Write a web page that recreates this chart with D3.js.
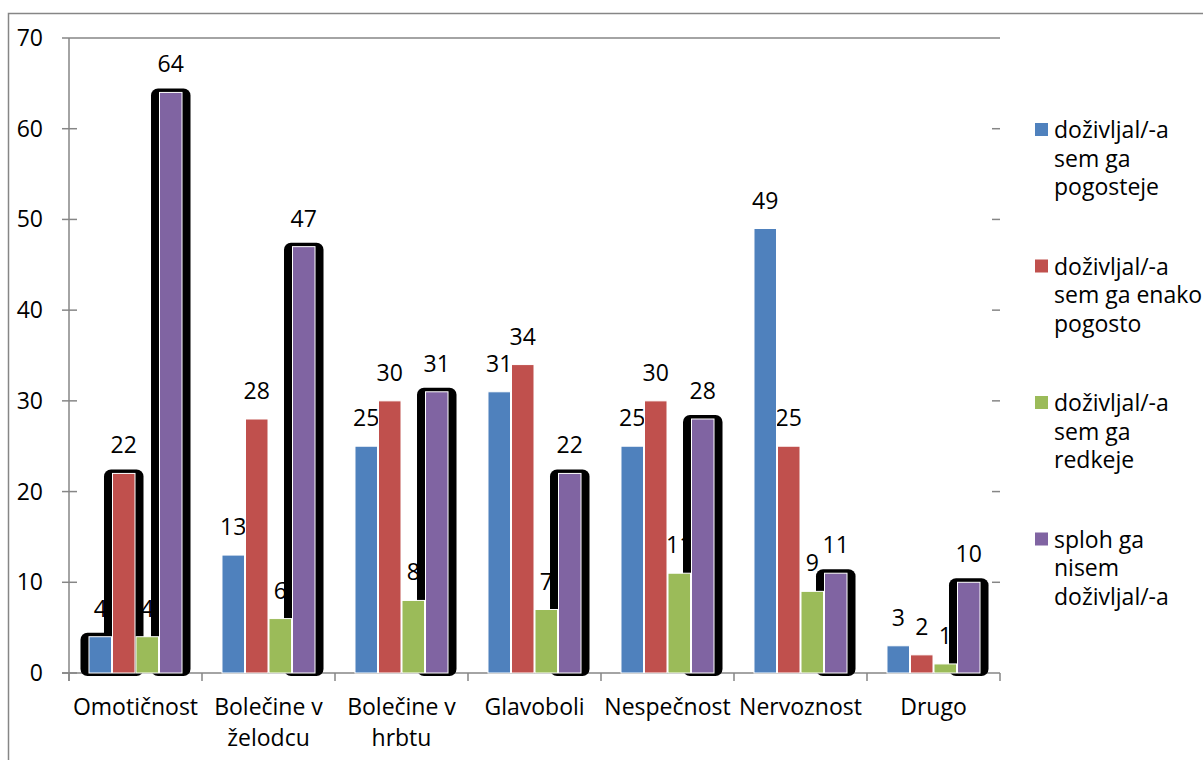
<!DOCTYPE html>
<html>
<head>
<meta charset="utf-8">
<script src="https://cdn.jsdelivr.net/npm/d3@7"></script>
<style>
  html, body { margin: 0; padding: 0; background: #fff; }
  svg { display: block; font-family: "Open Sans", sans-serif; }
</style>
</head>
<body>
<svg id="chart" width="1203" height="760"></svg>
<script>
// Symptom categories and the four answer groups
const categories = ["Omotičnost", "Bolečine v želodcu", "Bolečine v hrbtu", "Glavoboli", "Nespečnost", "Nervoznost", "Drugo"];
const seriesNames = [
  ["doživljal/-a", "sem ga", "pogosteje"],
  ["doživljal/-a", "sem ga enako", "pogosto"],
  ["doživljal/-a", "sem ga", "redkeje"],
  ["sploh ga", "nisem", "doživljal/-a"]
];
const seriesColors = ["#4F81BD", "#C0504D", "#9BBB59", "#8064A2"];

const pogosteje = [4, 13, 25, 31, 25, 49, 3];
const enako     = [22, 28, 30, 34, 30, 25, 2];
const redkeje   = [4, 6, 8, 7, 11, 9, 1];
const nikoli    = [64, 47, 31, 22, 28, 11, 10];
const seriesValues = [pogosteje, enako, redkeje, nikoli];

// bars that carry a heavy black rounded frame: [series index, category index]
const framedBars = [[0, 0], [1, 0], [3, 0], [3, 1], [3, 2], [3, 3], [3, 4], [3, 5], [3, 6]];

const yTicks = [0, 10, 20, 30, 40, 50, 60, 70];

const svg = d3.select("#chart");
const axisColor = "#868686";
const fontSize = 23;

// outer chart frame
svg.append("rect")
  .attr("x", 8.5).attr("y", 13.5)
  .attr("width", 1400).attr("height", 900)
  .attr("fill", "none").attr("stroke", axisColor).attr("stroke-width", 1.5);

const plot = { left: 69, right: 1000, top: 38, bottom: 673 };

const y = d3.scaleLinear().domain([0, 70]).range([plot.bottom, plot.top]);
const x0 = d3.scaleBand().domain(categories)
  .range([plot.left, plot.right]).paddingInner(0.293).paddingOuter(0.1465);
const x1 = d3.scaleBand().domain(d3.range(seriesValues.length))
  .range([0, x0.bandwidth()]).padding(0);

const rows = [];
seriesValues.forEach((vals, s) => vals.forEach((v, c) => rows.push({ s, c, v })));

// y axis: line with short crossing ticks
const yAxis = svg.append("g");
yAxis.append("line")
  .attr("x1", plot.left).attr("x2", plot.left)
  .attr("y1", plot.top).attr("y2", plot.bottom + 8)
  .attr("stroke", axisColor).attr("stroke-width", 1.5);
yAxis.selectAll("line.tick").data(yTicks.filter(t => t < 70)).join("line")
  .attr("class", "tick")
  .attr("x1", plot.left - 7).attr("x2", plot.left + 8)
  .attr("y1", d => y(d)).attr("y2", d => y(d))
  .attr("stroke", axisColor).attr("stroke-width", 1.5);
// right-hand tick marks
yAxis.selectAll("line.rtick").data(yTicks.filter(t => t > 0 && t < 70)).join("line")
  .attr("class", "rtick")
  .attr("x1", plot.right - 8).attr("x2", plot.right)
  .attr("y1", d => y(d)).attr("y2", d => y(d))
  .attr("stroke", axisColor).attr("stroke-width", 1.5);
// top line at the maximum
yAxis.append("line")
  .attr("x1", plot.left - 7).attr("x2", plot.right)
  .attr("y1", y(70)).attr("y2", y(70))
  .attr("stroke", axisColor).attr("stroke-width", 1.5);
yAxis.selectAll("text").data(yTicks).join("text")
  .attr("x", 43).attr("y", d => y(d))
  .attr("dy", "0.35em")
  .attr("text-anchor", "end")
  .attr("font-size", fontSize).attr("fill", "#000")
  .text(d => d);

// x axis
const xAxis = svg.append("g");
xAxis.append("line")
  .attr("x1", plot.left - 7).attr("x2", plot.right)
  .attr("y1", plot.bottom).attr("y2", plot.bottom)
  .attr("stroke", axisColor).attr("stroke-width", 1.5);
const bounds = categories.map(c => x0(c) - x0.step() * x0.paddingOuter()).concat([plot.right]);
xAxis.selectAll("line.xt").data(bounds).join("line")
  .attr("class", "xt")
  .attr("x1", d => d).attr("x2", d => d)
  .attr("y1", plot.bottom).attr("y2", plot.bottom + 8)
  .attr("stroke", axisColor).attr("stroke-width", 1.5);

// category labels, wrapped to the band step
const catLabels = xAxis.selectAll("text").data(categories).join("text")
  .attr("x", d => x0(d) + x0.bandwidth() / 2)
  .attr("y", 715)
  .attr("text-anchor", "middle")
  .attr("font-size", fontSize).attr("fill", "#000");
catLabels.each(function (d) {
  const t = d3.select(this);
  const words = d.split(" ");
  const lines = [];
  let line = [];
  const probe = t.append("tspan");
  words.forEach(w => {
    const trial = line.concat([w]).join(" ");
    probe.text(trial);
    if (probe.node().getComputedTextLength() > x0.step() && line.length) {
      lines.push(line.join(" "));
      line = [w];
    } else {
      line.push(w);
    }
  });
  lines.push(line.join(" "));
  probe.remove();
  lines.forEach((l, i) => {
    t.append("tspan")
      .attr("x", x0(d) + x0.bandwidth() / 2)
      .attr("y", 715 + i * 31)
      .text(l);
  });
});

const barX = d => x0(categories[d.c]) + x1(d.s);

// value labels (drawn first so the frames sit on top of them)
svg.append("g").selectAll("text").data(rows).join("text")
  .attr("x", d => barX(d) + x1.bandwidth() / 2)
  .attr("y", d => y(d.v) - 20)
  .attr("text-anchor", "middle")
  .attr("font-size", fontSize).attr("fill", "#000")
  .text(d => d.v);

// heavy black rounded frames behind selected bars
const framed = framedBars.map(([s, c]) => ({ s, c, v: seriesValues[s][c] }));
svg.append("g").selectAll("rect").data(framed).join("rect")
  .attr("x", d => barX(d) - 8)
  .attr("y", d => y(d.v) - 4)
  .attr("width", x1.bandwidth() + 16)
  .attr("height", d => y(0) - y(d.v) + 7)
  .attr("rx", 7).attr("ry", 7)
  .attr("fill", "#000");

// bars
svg.append("g").selectAll("rect").data(rows).join("rect")
  .attr("x", d => barX(d) + 0.5)
  .attr("y", d => y(d.v))
  .attr("width", x1.bandwidth() - 1)
  .attr("height", d => y(0) - y(d.v))
  .attr("fill", d => seriesColors[d.s])
  .attr("stroke", "#fff").attr("stroke-width", 1);

// legend
const legend = svg.append("g");
seriesNames.forEach((lines, i) => {
  const base = 138 + i * 136.5;
  legend.append("rect")
    .attr("x", 1035).attr("y", base - 15)
    .attr("width", 13).attr("height", 13)
    .attr("fill", seriesColors[i]);
  const t = legend.append("text").attr("font-size", fontSize).attr("fill", "#000");
  lines.forEach((l, k) => {
    t.append("tspan").attr("x", 1054).attr("y", base + k * 28.5).text(l);
  });
});
</script>
</body>
</html>
